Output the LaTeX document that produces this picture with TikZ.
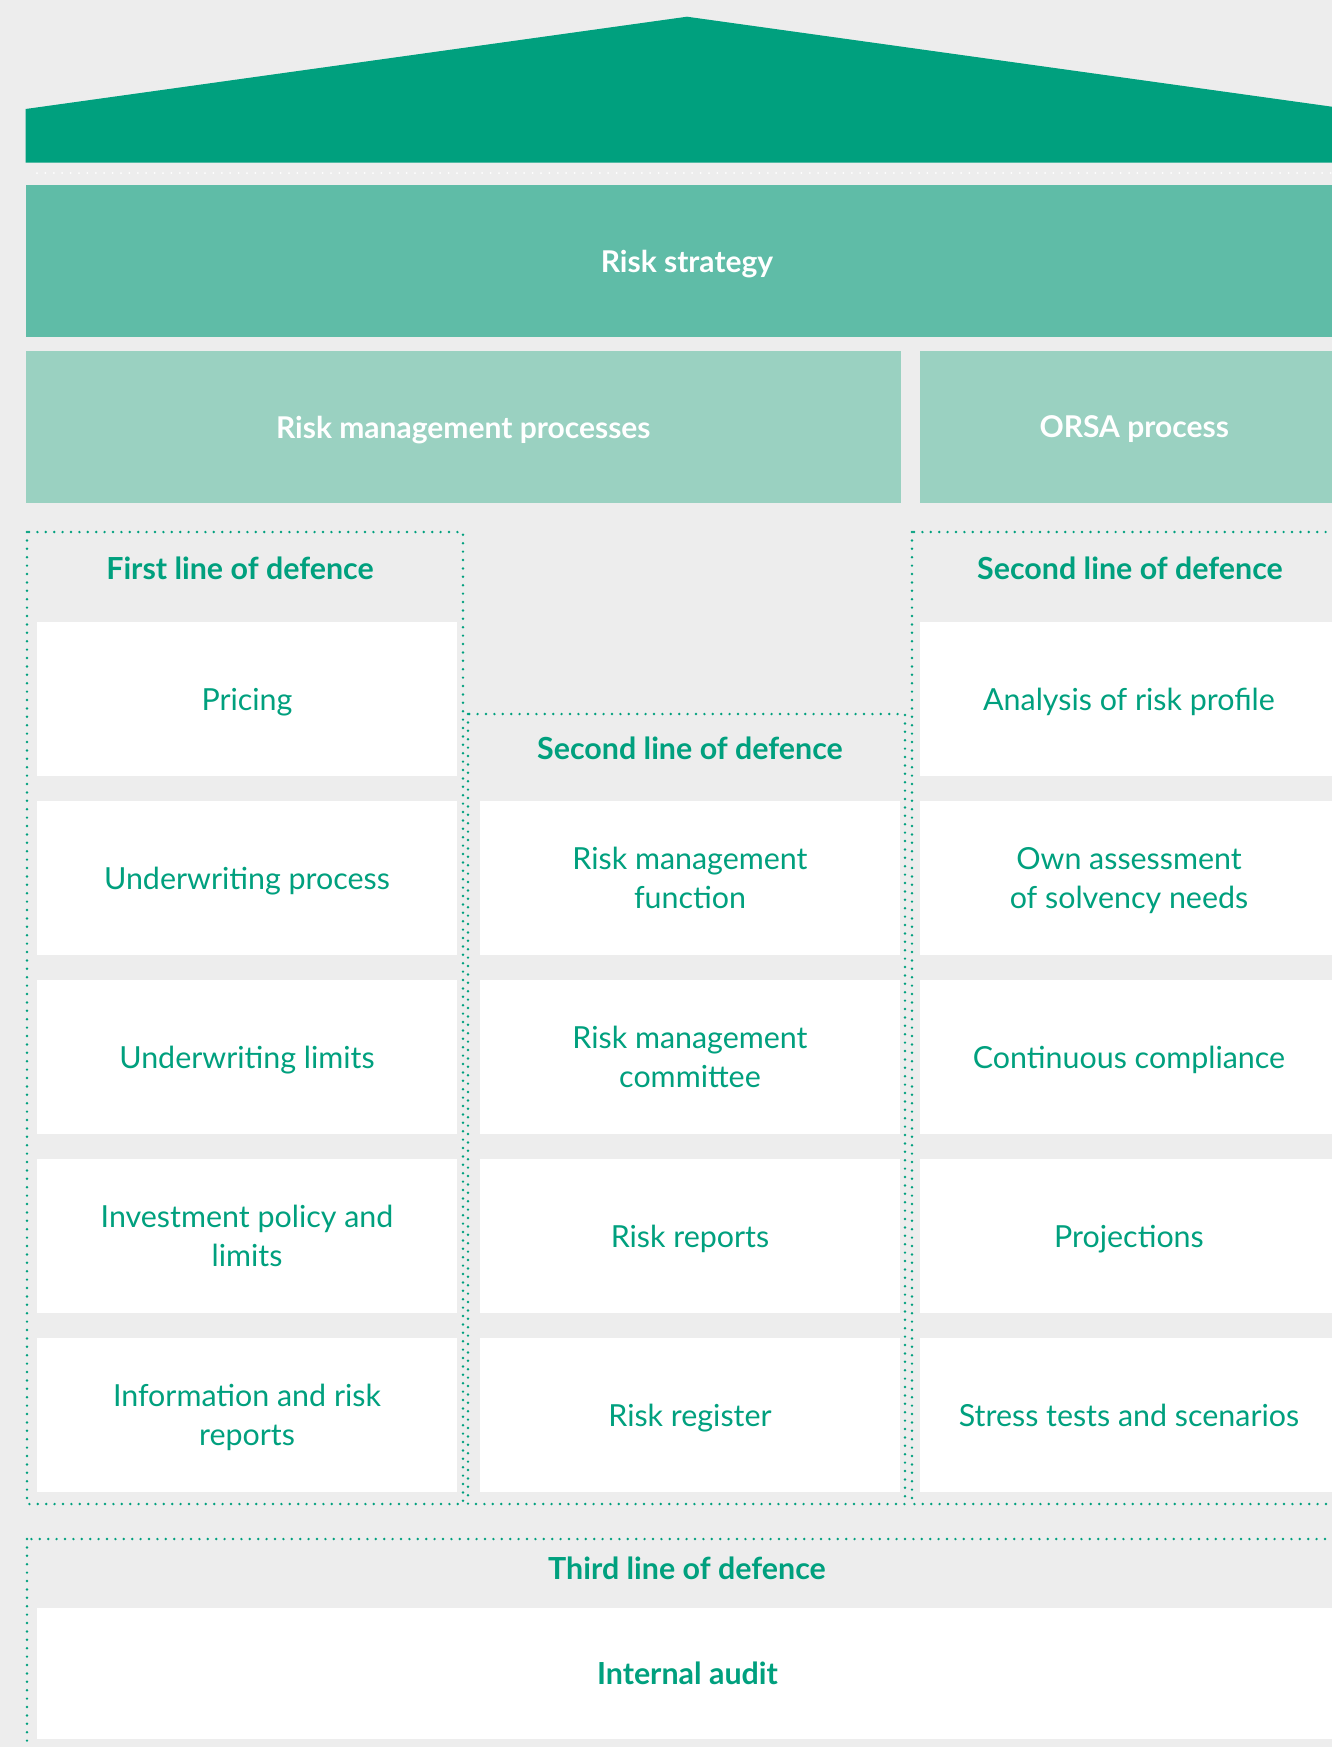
\documentclass[tikz,border=0pt]{standalone}
\usepackage{fontspec}
\setmainfont{Lato}
\definecolor{dgreen}{HTML}{00A07E}
\definecolor{mgreen}{HTML}{5FBCA7}
\definecolor{lgreen}{HTML}{9AD1C1}
\definecolor{bggrey}{HTML}{EDEDED}
\tikzset{
  cell/.style={fill=white,text=dgreen,align=center,inner sep=0pt,
    minimum width=210pt,minimum height=77pt,text depth=-3pt,
    font=\fontsize{15.2}{19.5}\selectfont},
  band/.style={inner sep=0pt,text=white,minimum height=76pt,text depth=-4pt,
    font=\bfseries\fontsize{15}{19.5}\selectfont},
  head/.style={text=dgreen,font=\bfseries\fontsize{15.2}{19.5}\selectfont},
  dotline/.style={draw=dgreen,line width=1.35pt,line cap=round,
    dash pattern=on 0pt off 4.2pt}
}

\begin{document}
\begin{tikzpicture}[x=0.5pt,y=-0.5pt]
 \useasboundingbox (0,0) rectangle (1332,1747);
 \clip (0,0) rectangle (1332,1747);
 \fill[bggrey] (0,0) rectangle (1332,1747);
 %ROOF
 \fill[dgreen] (25.6,162.6) -- (25.6,109) -- (687,16.7) -- (1348.4,109) -- (1348.4,162.6) -- cycle;
 \draw[dotline,draw=white,line width=1pt] (37,173) -- (1340,173);
 %BANDS
 \node[band,fill=mgreen,minimum width=661.4pt] (strategy) at (687,261) {Risk strategy};
 \node[band,fill=lgreen,minimum width=437.7pt] (rmp) at (463.3,427) {Risk management processes};
 \node[band,fill=lgreen,minimum width=214.2pt] (orsa) at (1134.2,427) {ORSA process};
 %DOTTED FRAMES
 \draw[dotline] (27,532) rectangle (463,1504);
 \draw[dotline] (468,714) rectangle (905,1504);
 \draw[dotline] (912,532) rectangle (1348,1504);
 \draw[dotline] (27,1539) rectangle (1348,1770);
 %HEADERS
 \node[head] (first) at (240,568) {First line of defence};
 \node[head] (secmid) at (690,748) {Second line of defence};
 \node[head] (secright) at (1130,568) {Second line of defence};
 \node[head] (third) at (687,1568) {Third line of defence};
 %FIRST LINE
 \node[cell] (pricing) at (247,699) {Pricing};
 \node[cell] (uwproc) at (247,878) {Underwriting process};
 \node[cell] (uwlim) at (247,1057) {Underwriting limits};
 \node[cell] (invest) at (247,1236) {Investment policy and\\limits};
 \node[cell] (inforep) at (247,1415) {Information and risk\\reports};
 %SECOND LINE, MIDDLE
 \node[cell] (rmf) at (690,878) {Risk management\\function};
 \node[cell] (rmc) at (690,1057) {Risk management\\committee};
 \node[cell] (rrep) at (690,1236) {Risk reports};
 \node[cell] (rreg) at (690,1415) {Risk register};
 %SECOND LINE, ORSA
 \node[cell,minimum width=209pt] (profile) at (1129,699) {Analysis of risk profile};
 \node[cell,minimum width=209pt] (solv) at (1129,878) {Own assessment\\of solvency needs};
 \node[cell,minimum width=209pt] (compl) at (1129,1057) {Continuous compliance};
 \node[cell,minimum width=209pt] (proj) at (1129,1236) {Projections};
 \node[cell,minimum width=209pt] (stress) at (1129,1415) {Stress tests and scenarios};
 %THIRD LINE
 \node[cell,minimum width=650.5pt,minimum height=65.5pt,font=\bfseries\fontsize{15.2}{19.5}\selectfont] (audit) at (687.5,1673.5) {Internal audit};
\end{tikzpicture}
\end{document}
